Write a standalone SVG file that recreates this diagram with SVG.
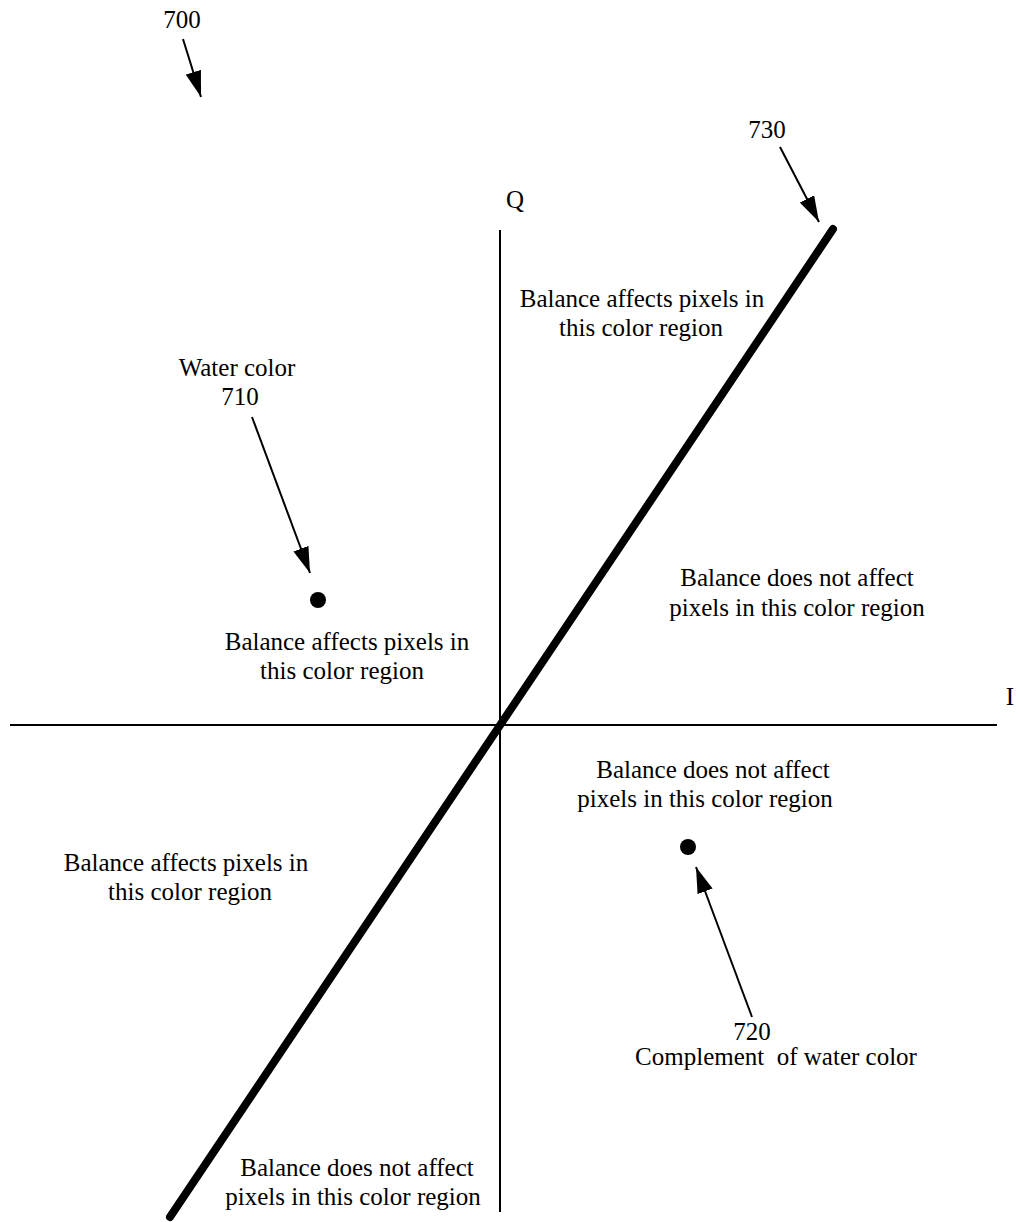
<svg xmlns="http://www.w3.org/2000/svg" width="1018" height="1222" viewBox="0 0 1018 1222">
<style>
text { font-family: "Liberation Serif", "Times New Roman", serif; font-size: 25px; fill: #000; text-anchor: middle; }
.axis { stroke: #000; stroke-width: 2; fill: none; }
.lead { stroke: #000; stroke-width: 2; fill: none; marker-end: url(#ah); }
</style>
<defs>
<marker id="ah" viewBox="0 0 26 16" refX="26" refY="8" markerWidth="26" markerHeight="16" markerUnits="userSpaceOnUse" orient="auto">
<path d="M0,0 L26,8 L0,16 Z" fill="#000"/>
</marker>
</defs>
<rect width="1018" height="1222" fill="#fff"/>
<g id="axes">
<line class="axis" x1="500" y1="230" x2="500" y2="1212"/>
<line class="axis" x1="10" y1="725" x2="997" y2="725"/>
<text x="515" y="208">Q</text>
<text x="1010" y="705">I</text>
</g>
<g id="line730">
<line x1="833" y1="229" x2="170" y2="1217" stroke="#000" stroke-width="8" stroke-linecap="round"/>
</g>
<g id="dot710">
<circle cx="318" cy="600" r="8" fill="#000"/>
</g>
<g id="dot720">
<circle cx="688" cy="847" r="8" fill="#000"/>
</g>
<g id="connectors">
<line class="lead" x1="183" y1="39" x2="201" y2="97"/>
<line class="lead" x1="780" y1="147" x2="819" y2="222"/>
<line class="lead" x1="252" y1="417" x2="310" y2="573"/>
<line class="lead" x1="752" y1="1017" x2="696" y2="867"/>
</g>
<g id="labels">
<text x="182" y="28">700</text>
<text x="767" y="138">730</text>
<text x="642" y="307">Balance affects pixels in</text>
<text x="641" y="336">this color region</text>
<text x="237" y="376">Water color</text>
<text x="240" y="405">710</text>
<text x="797" y="586">Balance does not affect</text>
<text x="797" y="616">pixels in this color region</text>
<text x="347" y="650">Balance affects pixels in</text>
<text x="342" y="679">this color region</text>
<text x="713" y="778">Balance does not affect</text>
<text x="705" y="807">pixels in this color region</text>
<text x="186" y="871">Balance affects pixels in</text>
<text x="190" y="900">this color region</text>
<text x="752" y="1040">720</text>
<text x="776" y="1065" style="white-space:pre">Complement  of water color</text>
<text x="357" y="1176">Balance does not affect</text>
<text x="353" y="1205">pixels in this color region</text>
</g>
</svg>
